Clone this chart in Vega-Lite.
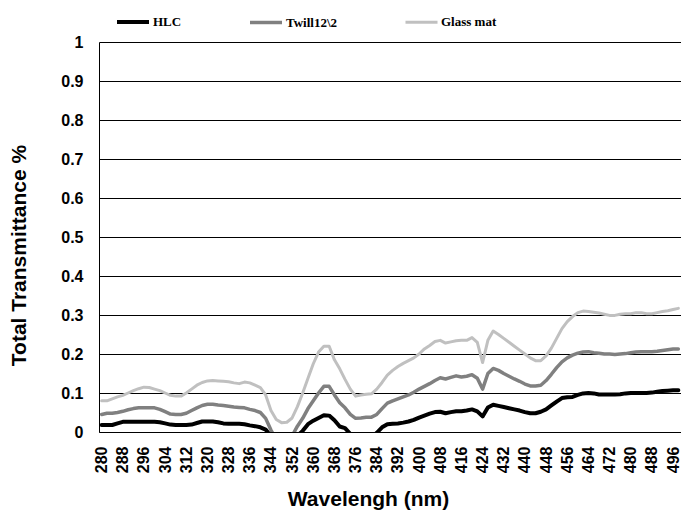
{
"$schema": "https://vega.github.io/schema/vega-lite/v6.json",
"width": 582, "height": 390,
"autosize": {"type": "none"},
"padding": {"left": 99, "top": 42, "right": 0, "bottom": 80},
"background": "white",
"config": {"view": {"stroke": null}, "font": "Liberation Sans"},
"data": {"values": [
{"w":280,"s":"HLC","t":0.018},{"w":282,"s":"HLC","t":0.018},{"w":284,"s":"HLC","t":0.018},{"w":286,"s":"HLC","t":0.022},{"w":288,"s":"HLC","t":0.026},{"w":290,"s":"HLC","t":0.026},{"w":292,"s":"HLC","t":0.026},{"w":294,"s":"HLC","t":0.026},{"w":296,"s":"HLC","t":0.026},{"w":298,"s":"HLC","t":0.026},
{"w":300,"s":"HLC","t":0.026},{"w":302,"s":"HLC","t":0.025},{"w":304,"s":"HLC","t":0.022},{"w":306,"s":"HLC","t":0.019},{"w":308,"s":"HLC","t":0.018},{"w":310,"s":"HLC","t":0.018},{"w":312,"s":"HLC","t":0.018},{"w":314,"s":"HLC","t":0.019},{"w":316,"s":"HLC","t":0.023},{"w":318,"s":"HLC","t":0.027},
{"w":320,"s":"HLC","t":0.027},{"w":322,"s":"HLC","t":0.027},{"w":324,"s":"HLC","t":0.025},{"w":326,"s":"HLC","t":0.022},{"w":328,"s":"HLC","t":0.021},{"w":330,"s":"HLC","t":0.021},{"w":332,"s":"HLC","t":0.021},{"w":334,"s":"HLC","t":0.020},{"w":336,"s":"HLC","t":0.017},{"w":338,"s":"HLC","t":0.015},
{"w":340,"s":"HLC","t":0.012},{"w":342,"s":"HLC","t":0.006},{"w":344,"s":"HLC","t":-0.01},{"w":346,"s":"HLC","t":-0.02},{"w":348,"s":"HLC","t":-0.02},{"w":350,"s":"HLC","t":-0.02},{"w":352,"s":"HLC","t":-0.02},{"w":354,"s":"HLC","t":-0.01},{"w":356,"s":"HLC","t":0.003},{"w":358,"s":"HLC","t":0.02},
{"w":360,"s":"HLC","t":0.029},{"w":362,"s":"HLC","t":0.036},{"w":364,"s":"HLC","t":0.043},{"w":366,"s":"HLC","t":0.042},{"w":368,"s":"HLC","t":0.03},{"w":370,"s":"HLC","t":0.014},{"w":372,"s":"HLC","t":0.01},{"w":374,"s":"HLC","t":-0.005},{"w":376,"s":"HLC","t":-0.02},{"w":378,"s":"HLC","t":-0.02},
{"w":380,"s":"HLC","t":-0.02},{"w":382,"s":"HLC","t":-0.015},{"w":384,"s":"HLC","t":-0.002},{"w":386,"s":"HLC","t":0.012},{"w":388,"s":"HLC","t":0.02},{"w":390,"s":"HLC","t":0.021},{"w":392,"s":"HLC","t":0.022},{"w":394,"s":"HLC","t":0.024},{"w":396,"s":"HLC","t":0.027},{"w":398,"s":"HLC","t":0.031},
{"w":400,"s":"HLC","t":0.037},{"w":402,"s":"HLC","t":0.042},{"w":404,"s":"HLC","t":0.047},{"w":406,"s":"HLC","t":0.051},{"w":408,"s":"HLC","t":0.052},{"w":410,"s":"HLC","t":0.048},{"w":412,"s":"HLC","t":0.051},{"w":414,"s":"HLC","t":0.053},{"w":416,"s":"HLC","t":0.053},{"w":418,"s":"HLC","t":0.055},
{"w":420,"s":"HLC","t":0.058},{"w":422,"s":"HLC","t":0.053},{"w":424,"s":"HLC","t":0.04},{"w":426,"s":"HLC","t":0.063},{"w":428,"s":"HLC","t":0.07},{"w":430,"s":"HLC","t":0.067},{"w":432,"s":"HLC","t":0.064},{"w":434,"s":"HLC","t":0.061},{"w":436,"s":"HLC","t":0.058},{"w":438,"s":"HLC","t":0.055},
{"w":440,"s":"HLC","t":0.051},{"w":442,"s":"HLC","t":0.048},{"w":444,"s":"HLC","t":0.048},{"w":446,"s":"HLC","t":0.052},{"w":448,"s":"HLC","t":0.058},{"w":450,"s":"HLC","t":0.068},{"w":452,"s":"HLC","t":0.078},{"w":454,"s":"HLC","t":0.087},{"w":456,"s":"HLC","t":0.089},{"w":458,"s":"HLC","t":0.09},
{"w":460,"s":"HLC","t":0.095},{"w":462,"s":"HLC","t":0.099},{"w":464,"s":"HLC","t":0.1},{"w":466,"s":"HLC","t":0.099},{"w":468,"s":"HLC","t":0.096},{"w":470,"s":"HLC","t":0.096},{"w":472,"s":"HLC","t":0.096},{"w":474,"s":"HLC","t":0.096},{"w":476,"s":"HLC","t":0.097},{"w":478,"s":"HLC","t":0.099},
{"w":480,"s":"HLC","t":0.1},{"w":482,"s":"HLC","t":0.1},{"w":484,"s":"HLC","t":0.1},{"w":486,"s":"HLC","t":0.1},{"w":488,"s":"HLC","t":0.101},{"w":490,"s":"HLC","t":0.103},{"w":492,"s":"HLC","t":0.105},{"w":494,"s":"HLC","t":0.106},{"w":496,"s":"HLC","t":0.107},{"w":498,"s":"HLC","t":0.107},
{"w":280,"s":"Twill12\\2","t":0.045},{"w":282,"s":"Twill12\\2","t":0.048},{"w":284,"s":"Twill12\\2","t":0.048},{"w":286,"s":"Twill12\\2","t":0.05},{"w":288,"s":"Twill12\\2","t":0.053},{"w":290,"s":"Twill12\\2","t":0.057},{"w":292,"s":"Twill12\\2","t":0.06},{"w":294,"s":"Twill12\\2","t":0.062},{"w":296,"s":"Twill12\\2","t":0.062},{"w":298,"s":"Twill12\\2","t":0.062},
{"w":300,"s":"Twill12\\2","t":0.062},{"w":302,"s":"Twill12\\2","t":0.058},{"w":304,"s":"Twill12\\2","t":0.052},{"w":306,"s":"Twill12\\2","t":0.046},{"w":308,"s":"Twill12\\2","t":0.045},{"w":310,"s":"Twill12\\2","t":0.045},{"w":312,"s":"Twill12\\2","t":0.048},{"w":314,"s":"Twill12\\2","t":0.055},{"w":316,"s":"Twill12\\2","t":0.062},{"w":318,"s":"Twill12\\2","t":0.068},
{"w":320,"s":"Twill12\\2","t":0.071},{"w":322,"s":"Twill12\\2","t":0.071},{"w":324,"s":"Twill12\\2","t":0.069},{"w":326,"s":"Twill12\\2","t":0.068},{"w":328,"s":"Twill12\\2","t":0.066},{"w":330,"s":"Twill12\\2","t":0.064},{"w":332,"s":"Twill12\\2","t":0.063},{"w":334,"s":"Twill12\\2","t":0.062},{"w":336,"s":"Twill12\\2","t":0.058},{"w":338,"s":"Twill12\\2","t":0.055},
{"w":340,"s":"Twill12\\2","t":0.05},{"w":342,"s":"Twill12\\2","t":0.035},{"w":344,"s":"Twill12\\2","t":0.005},{"w":346,"s":"Twill12\\2","t":-0.02},{"w":348,"s":"Twill12\\2","t":-0.03},{"w":350,"s":"Twill12\\2","t":-0.03},{"w":352,"s":"Twill12\\2","t":-0.01},{"w":354,"s":"Twill12\\2","t":0.015},{"w":356,"s":"Twill12\\2","t":0.035},{"w":358,"s":"Twill12\\2","t":0.06},
{"w":360,"s":"Twill12\\2","t":0.08},{"w":362,"s":"Twill12\\2","t":0.1},{"w":364,"s":"Twill12\\2","t":0.117},{"w":366,"s":"Twill12\\2","t":0.117},{"w":368,"s":"Twill12\\2","t":0.095},{"w":370,"s":"Twill12\\2","t":0.075},{"w":372,"s":"Twill12\\2","t":0.062},{"w":374,"s":"Twill12\\2","t":0.045},{"w":376,"s":"Twill12\\2","t":0.035},{"w":378,"s":"Twill12\\2","t":0.036},
{"w":380,"s":"Twill12\\2","t":0.038},{"w":382,"s":"Twill12\\2","t":0.038},{"w":384,"s":"Twill12\\2","t":0.045},{"w":386,"s":"Twill12\\2","t":0.06},{"w":388,"s":"Twill12\\2","t":0.074},{"w":390,"s":"Twill12\\2","t":0.08},{"w":392,"s":"Twill12\\2","t":0.085},{"w":394,"s":"Twill12\\2","t":0.09},{"w":396,"s":"Twill12\\2","t":0.095},{"w":398,"s":"Twill12\\2","t":0.102},
{"w":400,"s":"Twill12\\2","t":0.11},{"w":402,"s":"Twill12\\2","t":0.117},{"w":404,"s":"Twill12\\2","t":0.124},{"w":406,"s":"Twill12\\2","t":0.132},{"w":408,"s":"Twill12\\2","t":0.139},{"w":410,"s":"Twill12\\2","t":0.136},{"w":412,"s":"Twill12\\2","t":0.14},{"w":414,"s":"Twill12\\2","t":0.144},{"w":416,"s":"Twill12\\2","t":0.141},{"w":418,"s":"Twill12\\2","t":0.143},
{"w":420,"s":"Twill12\\2","t":0.147},{"w":422,"s":"Twill12\\2","t":0.138},{"w":424,"s":"Twill12\\2","t":0.11},{"w":426,"s":"Twill12\\2","t":0.15},{"w":428,"s":"Twill12\\2","t":0.163},{"w":430,"s":"Twill12\\2","t":0.158},{"w":432,"s":"Twill12\\2","t":0.15},{"w":434,"s":"Twill12\\2","t":0.143},{"w":436,"s":"Twill12\\2","t":0.136},{"w":438,"s":"Twill12\\2","t":0.13},
{"w":440,"s":"Twill12\\2","t":0.123},{"w":442,"s":"Twill12\\2","t":0.118},{"w":444,"s":"Twill12\\2","t":0.118},{"w":446,"s":"Twill12\\2","t":0.12},{"w":448,"s":"Twill12\\2","t":0.132},{"w":450,"s":"Twill12\\2","t":0.148},{"w":452,"s":"Twill12\\2","t":0.165},{"w":454,"s":"Twill12\\2","t":0.18},{"w":456,"s":"Twill12\\2","t":0.19},{"w":458,"s":"Twill12\\2","t":0.197},
{"w":460,"s":"Twill12\\2","t":0.202},{"w":462,"s":"Twill12\\2","t":0.205},{"w":464,"s":"Twill12\\2","t":0.206},{"w":466,"s":"Twill12\\2","t":0.203},{"w":468,"s":"Twill12\\2","t":0.202},{"w":470,"s":"Twill12\\2","t":0.2},{"w":472,"s":"Twill12\\2","t":0.2},{"w":474,"s":"Twill12\\2","t":0.199},{"w":476,"s":"Twill12\\2","t":0.2},{"w":478,"s":"Twill12\\2","t":0.201},
{"w":480,"s":"Twill12\\2","t":0.203},{"w":482,"s":"Twill12\\2","t":0.205},{"w":484,"s":"Twill12\\2","t":0.206},{"w":486,"s":"Twill12\\2","t":0.206},{"w":488,"s":"Twill12\\2","t":0.206},{"w":490,"s":"Twill12\\2","t":0.207},{"w":492,"s":"Twill12\\2","t":0.209},{"w":494,"s":"Twill12\\2","t":0.211},{"w":496,"s":"Twill12\\2","t":0.213},{"w":498,"s":"Twill12\\2","t":0.213},
{"w":280,"s":"Glass mat","t":0.08},{"w":282,"s":"Glass mat","t":0.08},{"w":284,"s":"Glass mat","t":0.085},{"w":286,"s":"Glass mat","t":0.09},{"w":288,"s":"Glass mat","t":0.094},{"w":290,"s":"Glass mat","t":0.1},{"w":292,"s":"Glass mat","t":0.106},{"w":294,"s":"Glass mat","t":0.111},{"w":296,"s":"Glass mat","t":0.115},{"w":298,"s":"Glass mat","t":0.114},
{"w":300,"s":"Glass mat","t":0.11},{"w":302,"s":"Glass mat","t":0.106},{"w":304,"s":"Glass mat","t":0.1},{"w":306,"s":"Glass mat","t":0.094},{"w":308,"s":"Glass mat","t":0.092},{"w":310,"s":"Glass mat","t":0.092},{"w":312,"s":"Glass mat","t":0.1},{"w":314,"s":"Glass mat","t":0.11},{"w":316,"s":"Glass mat","t":0.12},{"w":318,"s":"Glass mat","t":0.127},
{"w":320,"s":"Glass mat","t":0.131},{"w":322,"s":"Glass mat","t":0.132},{"w":324,"s":"Glass mat","t":0.131},{"w":326,"s":"Glass mat","t":0.13},{"w":328,"s":"Glass mat","t":0.129},{"w":330,"s":"Glass mat","t":0.126},{"w":332,"s":"Glass mat","t":0.124},{"w":334,"s":"Glass mat","t":0.128},{"w":336,"s":"Glass mat","t":0.126},{"w":338,"s":"Glass mat","t":0.12},
{"w":340,"s":"Glass mat","t":0.114},{"w":342,"s":"Glass mat","t":0.095},{"w":344,"s":"Glass mat","t":0.055},{"w":346,"s":"Glass mat","t":0.032},{"w":348,"s":"Glass mat","t":0.024},{"w":350,"s":"Glass mat","t":0.025},{"w":352,"s":"Glass mat","t":0.036},{"w":354,"s":"Glass mat","t":0.065},{"w":356,"s":"Glass mat","t":0.1},{"w":358,"s":"Glass mat","t":0.138},
{"w":360,"s":"Glass mat","t":0.175},{"w":362,"s":"Glass mat","t":0.205},{"w":364,"s":"Glass mat","t":0.22},{"w":366,"s":"Glass mat","t":0.22},{"w":368,"s":"Glass mat","t":0.185},{"w":370,"s":"Glass mat","t":0.162},{"w":372,"s":"Glass mat","t":0.135},{"w":374,"s":"Glass mat","t":0.11},{"w":376,"s":"Glass mat","t":0.092},{"w":378,"s":"Glass mat","t":0.095},
{"w":380,"s":"Glass mat","t":0.097},{"w":382,"s":"Glass mat","t":0.098},{"w":384,"s":"Glass mat","t":0.11},{"w":386,"s":"Glass mat","t":0.127},{"w":388,"s":"Glass mat","t":0.146},{"w":390,"s":"Glass mat","t":0.158},{"w":392,"s":"Glass mat","t":0.168},{"w":394,"s":"Glass mat","t":0.176},{"w":396,"s":"Glass mat","t":0.183},{"w":398,"s":"Glass mat","t":0.19},
{"w":400,"s":"Glass mat","t":0.2},{"w":402,"s":"Glass mat","t":0.213},{"w":404,"s":"Glass mat","t":0.222},{"w":406,"s":"Glass mat","t":0.232},{"w":408,"s":"Glass mat","t":0.235},{"w":410,"s":"Glass mat","t":0.228},{"w":412,"s":"Glass mat","t":0.231},{"w":414,"s":"Glass mat","t":0.234},{"w":416,"s":"Glass mat","t":0.235},{"w":418,"s":"Glass mat","t":0.235},
{"w":420,"s":"Glass mat","t":0.242},{"w":422,"s":"Glass mat","t":0.23},{"w":424,"s":"Glass mat","t":0.178},{"w":426,"s":"Glass mat","t":0.235},{"w":428,"s":"Glass mat","t":0.259},{"w":430,"s":"Glass mat","t":0.25},{"w":432,"s":"Glass mat","t":0.24},{"w":434,"s":"Glass mat","t":0.23},{"w":436,"s":"Glass mat","t":0.22},{"w":438,"s":"Glass mat","t":0.21},
{"w":440,"s":"Glass mat","t":0.2},{"w":442,"s":"Glass mat","t":0.19},{"w":444,"s":"Glass mat","t":0.183},{"w":446,"s":"Glass mat","t":0.183},{"w":448,"s":"Glass mat","t":0.195},{"w":450,"s":"Glass mat","t":0.215},{"w":452,"s":"Glass mat","t":0.24},{"w":454,"s":"Glass mat","t":0.265},{"w":456,"s":"Glass mat","t":0.283},{"w":458,"s":"Glass mat","t":0.296},
{"w":460,"s":"Glass mat","t":0.306},{"w":462,"s":"Glass mat","t":0.31},{"w":464,"s":"Glass mat","t":0.309},{"w":466,"s":"Glass mat","t":0.307},{"w":468,"s":"Glass mat","t":0.305},{"w":470,"s":"Glass mat","t":0.302},{"w":472,"s":"Glass mat","t":0.299},{"w":474,"s":"Glass mat","t":0.299},{"w":476,"s":"Glass mat","t":0.302},{"w":478,"s":"Glass mat","t":0.303},
{"w":480,"s":"Glass mat","t":0.303},{"w":482,"s":"Glass mat","t":0.306},{"w":484,"s":"Glass mat","t":0.306},{"w":486,"s":"Glass mat","t":0.303},{"w":488,"s":"Glass mat","t":0.303},{"w":490,"s":"Glass mat","t":0.306},{"w":492,"s":"Glass mat","t":0.309},{"w":494,"s":"Glass mat","t":0.311},{"w":496,"s":"Glass mat","t":0.314},{"w":498,"s":"Glass mat","t":0.317}
]},
"mark": {"type": "line", "clip": true, "strokeJoin": "round", "strokeCap": "round"},
"encoding": {
"x": {"field": "w", "type": "quantitative",
 "scale": {"domain": [279, 499], "nice": false, "zero": false},
 "axis": {"values": [280,288,296,304,312,320,328,336,344,352,360,368,376,384,392,400,408,416,424,432,440,448,456,464,472,480,488,496],
  "labelAngle": -90, "grid": false, "ticks": false, "domainColor": "black", "domainWidth": 1,
  "labelFontWeight": "bold", "labelFontSize": 16, "labelColor": "black", "labelPadding": 14,
  "labelFlush": false, "labelOverlap": false,
  "title": "Wavelengh (nm)", "titleFontSize": 21, "titleFontWeight": "bold", "titleColor": "black",
  "titleX": 269, "titleY": 73, "titleBaseline": "alphabetic", "titleAlign": "center"}},
"y": {"field": "t", "type": "quantitative",
 "scale": {"domain": [0, 1], "nice": false},
 "axis": {"values": [0,0.1,0.2,0.3,0.4,0.5,0.6,0.7,0.8,0.9,1], "format": "~g",
  "grid": true, "gridColor": "black", "gridWidth": 1, "gridOpacity": 1, "ticks": false,
  "domainColor": "black", "domainWidth": 1,
  "labelFontWeight": "bold", "labelFontSize": 16, "labelColor": "black", "labelPadding": 16, "labelFlush": false,
  "title": "Total Transmittance %", "titleFontSize": 21, "titleFontWeight": "bold", "titleColor": "black",
  "titleX": -70, "titleY": 213, "titleBaseline": "bottom", "titleAlign": "center", "titleAngle": -90}},
"color": {"field": "s", "type": "nominal",
 "scale": {"domain": ["HLC", "Twill12\\2", "Glass mat"], "range": ["#000000", "#808080", "#c0c0c0"]},
 "legend": {"title": null, "orient": "none", "legendX": 16, "legendY": -38, "direction": "horizontal",
  "symbolType": "stroke", "symbolSize": 1024, "labelFont": "Liberation Serif", "labelFontWeight": "bold",
  "labelFontSize": 13, "labelColor": "black", "columnPadding": 61, "labelOffset": 2, "padding": 0}},
"strokeWidth": {"field": "s", "type": "nominal",
 "scale": {"domain": ["HLC", "Twill12\\2", "Glass mat"], "range": [4, 3, 3]},
 "legend": {"title": null, "orient": "none", "legendX": 16, "legendY": -38, "direction": "horizontal",
  "symbolType": "stroke", "symbolSize": 1024, "labelFont": "Liberation Serif", "labelFontWeight": "bold",
  "labelFontSize": 13, "labelColor": "black", "columnPadding": 61, "labelOffset": 2, "padding": 0}}
}
}
